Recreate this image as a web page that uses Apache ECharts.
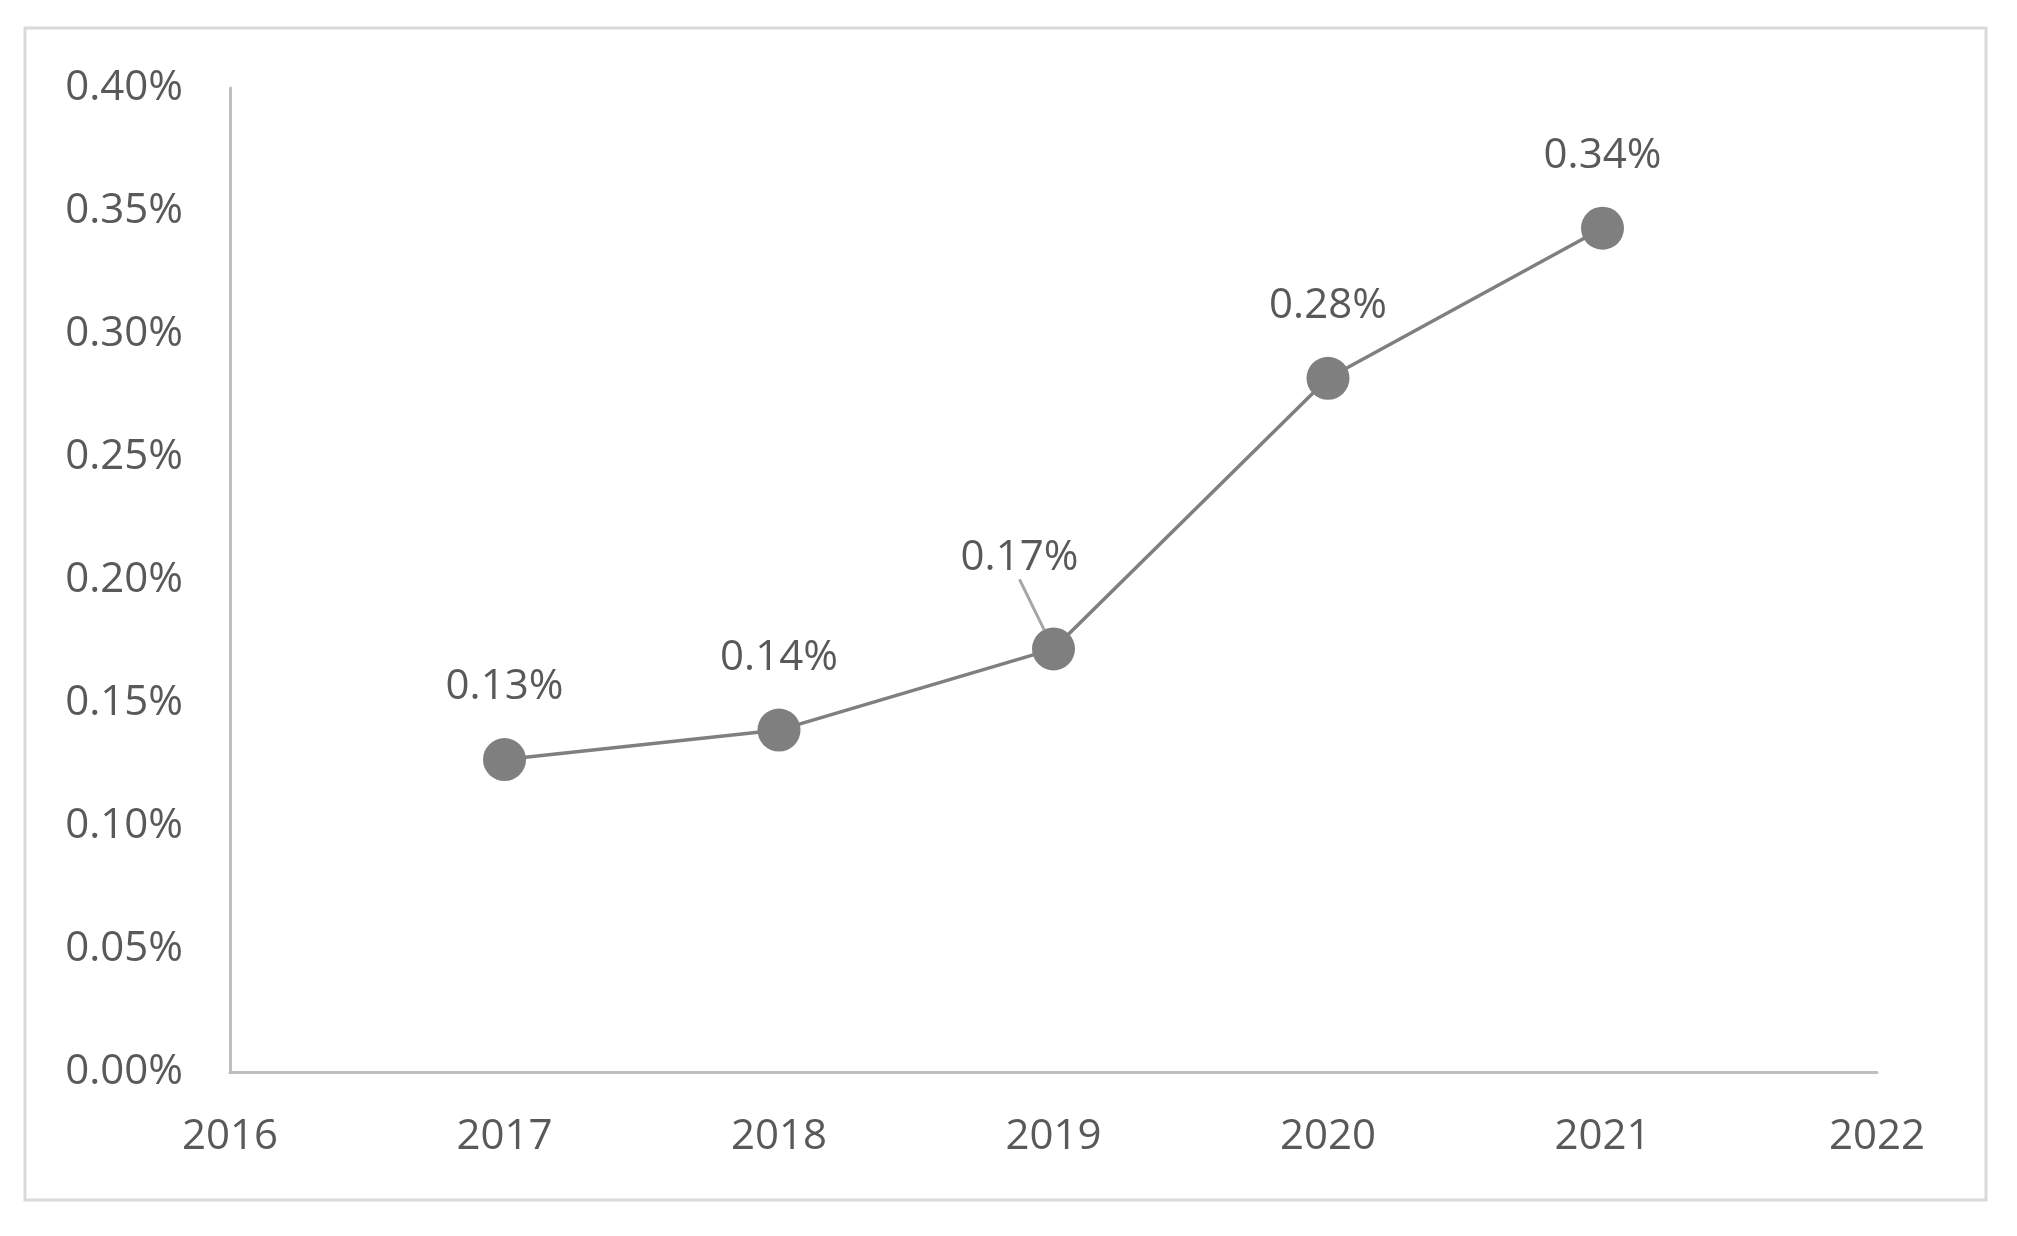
<!DOCTYPE html>
<html>
<head>
<meta charset="utf-8">
<script src="https://cdn.jsdelivr.net/npm/echarts@6/dist/echarts.min.js"></script>
<style>
html,body{margin:0;padding:0;background:#fff;}
#chart{width:2017px;height:1236px;}
</style>
</head>
<body>
<div id="chart"></div>
<script>
const years = [2017, 2018, 2019, 2020, 2021];
const values = [0.127, 0.139, 0.172, 0.282, 0.343]; // percent
const yTicks = [0, 0.05, 0.10, 0.15, 0.20, 0.25, 0.30, 0.35, 0.40];
const xRange = [2016, 2022];

const FONT = '"Open Sans", "Liberation Sans", sans-serif';
const chart = echarts.init(document.getElementById('chart'));

chart.setOption({
  animation: false,
  backgroundColor: '#fff',
  graphic: [{
    type: 'rect', silent: true, z: -1,
    shape: { x: 25, y: 28, width: 1961, height: 1172 },
    style: { fill: 'none', stroke: '#d9d9d9', lineWidth: 3 }
  }],
  grid: { left: 230, right: 140, top: 88, bottom: 164 },
  xAxis: {
    type: 'value',
    min: xRange[0], max: xRange[1], interval: 1,
    axisLine: { show: true, onZero: false, lineStyle: { color: '#bfbfbf', width: 3 } },
    axisTick: { show: false },
    splitLine: { show: false },
    axisLabel: { color: '#595959', fontSize: 42, fontFamily: FONT, margin: 44, formatter: v => String(v) }
  },
  yAxis: {
    type: 'value',
    min: yTicks[0], max: yTicks[yTicks.length - 1], interval: 0.05,
    axisLine: { show: true, lineStyle: { color: '#bfbfbf', width: 3 } },
    axisTick: { show: false },
    splitLine: { show: false },
    axisLabel: { color: '#595959', fontSize: 42, fontFamily: FONT, margin: 47, formatter: v => v.toFixed(2) + '%' }
  },
  series: [{
    type: 'line',
    data: years.map((y, i) => {
      const item = { value: [y, values[i]] };
      if (i === 2) {
        item.labelLine = { show: true, lineStyle: { color: '#a6a6a6', width: 3 } };
      }
      return item;
    }),
    symbol: 'circle',
    symbolSize: 43,
    itemStyle: { color: '#7f7f7f' },
    lineStyle: { color: '#7f7f7f', width: 3.5 },
    label: {
      show: true, position: 'top', distance: 30,
      color: '#595959', fontSize: 42, fontFamily: FONT,
      formatter: p => p.value[1].toFixed(2) + '%'
    },
    labelLayout: p => p.dataIndex === 2 ? { dx: -34, dy: -18 } : {}
  }]
});
</script>
</body>
</html>
